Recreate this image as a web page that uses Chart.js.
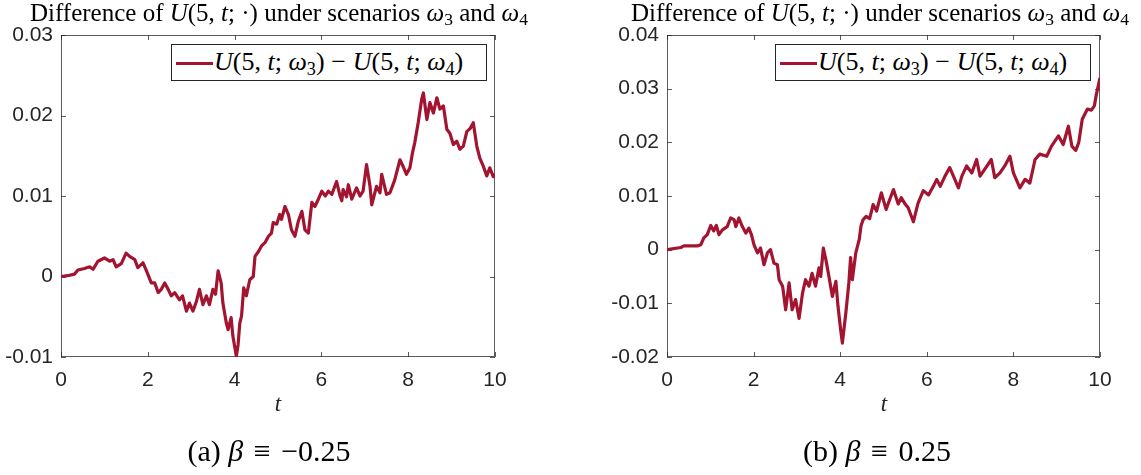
<!DOCTYPE html>
<html>
<head>
<meta charset="utf-8">
<script src="https://cdn.jsdelivr.net/npm/chart.js@4.4.1/dist/chart.umd.min.js"></script>
<style>
  html, body { margin:0; padding:0; background:#fff; }
  #wrap { position:relative; width:1141px; height:475px; overflow:hidden; background:#fff; }
  canvas { position:absolute; top:0; }
  .serif { font-family:"Liberation Serif","DejaVu Serif",serif; color:#000; position:absolute; white-space:nowrap; }
  .title { font-size:25px; line-height:26px; top:0px; transform:translateX(-50%); }
  .cap { font-size:30px; line-height:32px; top:435px; transform:translateX(-50%); }
  .xl { font-size:23px; line-height:26px; top:391px; font-style:italic; transform:translateX(-50%); color:#262626; }
  .legend { position:absolute; background:#fff; border:1px solid #262626; box-sizing:border-box; height:37px; }
  .legend .sw { position:absolute; left:4px; top:17px; width:37px; height:3px; background:#A2142F; }
  .legend .tx { position:absolute; left:42px; top:2px; font-size:26px; line-height:30px; }
  sub { font-size:0.7em; vertical-align:-0.25em; line-height:0; }
  i { font-style:italic; }
  .sp { display:inline-block; width:0.26em; }
  .cs { display:inline-block; width:0.1em; }
</style>
</head>
<body>
<div id="wrap">
  <canvas id="cA" width="570" height="420" style="left:0;width:570px;height:420px"></canvas>
  <canvas id="cB" width="571" height="420" style="left:570px;width:571px;height:420px"></canvas>

  <div class="serif title" style="left:279px">Difference of <i>U</i>(5, <i>t</i>; ·) under scenarios <i>ω</i><sub>3</sub> and <i>ω</i><sub>4</sub></div>
  <div class="serif title" style="left:880px">Difference of <i>U</i>(5, <i>t</i>; ·) under scenarios <i>ω</i><sub>3</sub> and <i>ω</i><sub>4</sub></div>

  <div class="legend" style="left:171px;top:44px;width:316px"><div class="sw"></div><div class="serif tx"><i>U</i>(5, <i>t</i>; <i>ω</i><sub>3</sub>)<span class="sp"></span>−<span class="sp"></span><i>U</i>(5, <i>t</i>; <i>ω</i><sub>4</sub>)</div></div>
  <div class="legend" style="left:775px;top:44px;width:316px"><div class="sw"></div><div class="serif tx"><i>U</i>(5, <i>t</i>; <i>ω</i><sub>3</sub>)<span class="sp"></span>−<span class="sp"></span><i>U</i>(5, <i>t</i>; <i>ω</i><sub>4</sub>)</div></div>

  <div class="serif xl" style="left:278px">t</div>
  <div class="serif xl" style="left:884px">t</div>

  <div class="serif cap" style="left:269px">(a) <i>β</i><span class="cs"></span> ≡ <span class="cs"></span>−0.25</div>
  <div class="serif cap" style="left:877px">(b) <i>β</i><span class="cs"></span> ≡ <span class="cs"></span>0.25</div>
</div>
<script>
// ---- data ----
const tA = [0,0.15,0.31,0.39,0.54,0.66,0.74,0.85,1.0,1.12,1.2,1.27,1.39,1.5,1.58,1.7,1.77,1.89,1.97,2.08,2.16,2.24,2.31,2.39,2.47,2.54,2.62,2.73,2.8,2.89,2.96,3.04,3.12,3.19,3.27,3.35,3.42,3.5,3.56,3.62,3.69,3.73,3.81,3.85,3.92,3.96,4.04,4.08,4.12,4.16,4.21,4.27,4.35,4.43,4.47,4.55,4.62,4.7,4.78,4.85,4.89,4.97,5.04,5.08,5.16,5.24,5.31,5.39,5.47,5.55,5.62,5.7,5.78,5.85,5.93,6.01,6.09,6.16,6.24,6.35,6.43,6.47,6.5,6.58,6.62,6.7,6.81,6.89,6.96,7.04,7.12,7.16,7.27,7.35,7.39,7.5,7.58,7.69,7.81,7.88,7.96,8.04,8.1,8.15,8.23,8.31,8.35,8.43,8.5,8.58,8.66,8.73,8.81,8.89,8.96,9.04,9.12,9.19,9.27,9.35,9.43,9.5,9.58,9.65,9.73,9.81,9.88,9.96,10];
const uA = [0,0.0001,0.0003,0.0008,0.001,0.0012,0.0009,0.0019,0.0023,0.0019,0.0021,0.0012,0.0016,0.0029,0.0025,0.0021,0.0011,0.0017,0.0007,-0.0008,-0.0008,-0.002,-0.0016,-0.0008,-0.0016,-0.0024,-0.002,-0.0029,-0.0024,-0.0043,-0.0033,-0.0043,-0.0031,-0.0016,-0.0035,-0.0024,-0.0035,-0.0016,-0.0022,0.0007,-0.0008,-0.0033,-0.0058,-0.0066,-0.0051,-0.0074,-0.0099,-0.0085,-0.0058,-0.0049,-0.0014,-0.0024,-0.0004,0,0.0025,0.0031,0.0038,0.0042,0.005,0.0054,0.0067,0.0065,0.0077,0.0071,0.0087,0.0077,0.0058,0.005,0.0069,0.0081,0.0058,0.0054,0.0092,0.0087,0.0096,0.0106,0.01,0.0106,0.0102,0.0118,0.01,0.0094,0.0108,0.0099,0.0114,0.0096,0.011,0.01,0.0106,0.0139,0.0112,0.0089,0.0112,0.0104,0.0127,0.0102,0.0104,0.012,0.0145,0.0137,0.0127,0.0135,0.0154,0.0166,0.0191,0.022,0.0228,0.0195,0.0216,0.0203,0.0222,0.0208,0.0212,0.0183,0.0178,0.0164,0.0168,0.0158,0.0162,0.018,0.0184,0.0191,0.0162,0.0147,0.0137,0.0125,0.0135,0.0124,0.0127];

const tB = [0,0.32,0.39,0.7,0.78,0.85,0.93,1.01,1.08,1.14,1.2,1.28,1.39,1.47,1.55,1.59,1.66,1.74,1.82,1.89,1.95,2.01,2.09,2.16,2.24,2.32,2.39,2.47,2.55,2.59,2.67,2.74,2.82,2.89,2.97,3.05,3.13,3.2,3.28,3.35,3.43,3.51,3.55,3.61,3.67,3.74,3.82,3.9,3.95,4.01,4.05,4.13,4.2,4.24,4.28,4.36,4.44,4.48,4.53,4.6,4.68,4.76,4.84,4.95,5.06,5.15,5.23,5.34,5.41,5.5,5.57,5.69,5.8,5.92,6.04,6.15,6.23,6.31,6.42,6.53,6.6,6.73,6.81,6.92,7.04,7.15,7.23,7.34,7.49,7.57,7.69,7.8,7.92,8.0,8.15,8.27,8.38,8.5,8.61,8.77,8.88,9.04,9.15,9.27,9.35,9.44,9.51,9.59,9.71,9.8,9.87,9.91,10];
const uB = [0,0.0004,0.0007,0.0007,0.0009,0.0022,0.0028,0.0045,0.0035,0.0045,0.0028,0.0037,0.0043,0.0059,0.0056,0.0043,0.0059,0.0043,0.0031,0.004,0.0028,0.0009,-0.0006,0.0003,-0.0028,-0.0006,0.0,-0.0025,-0.0028,-0.0056,-0.0068,-0.0112,-0.0062,-0.0112,-0.0093,-0.0128,-0.0081,-0.0056,-0.0068,-0.0044,-0.0068,-0.0034,-0.005,0.0003,-0.0019,-0.005,-0.0087,-0.0059,-0.0106,-0.0149,-0.0174,-0.0118,-0.0062,-0.0015,-0.0056,-0.0006,0.0019,0.0044,0.0056,0.0062,0.0058,0.0084,0.0072,0.0106,0.0075,0.0095,0.0112,0.0085,0.0097,0.0085,0.0078,0.0052,0.0087,0.011,0.0102,0.0118,0.0131,0.0118,0.0137,0.0153,0.014,0.0115,0.0137,0.0156,0.0143,0.0168,0.0137,0.015,0.0168,0.0134,0.0143,0.0156,0.0174,0.0143,0.0115,0.0131,0.0124,0.0168,0.0178,0.0174,0.0193,0.0212,0.0196,0.023,0.0193,0.0185,0.02,0.0243,0.0262,0.026,0.0268,0.0287,0.032];

const xTickVals = [0,2,4,6,8,10];
const xTickLabels = ['0','2','4','6','8','10'];
const yTickValsA = [-0.01,0,0.01,0.02,0.03];
const yTickLabelsA = ['-0.01','0','0.01','0.02','0.03'];
const yTickValsB = [-0.02,-0.01,0,0.01,0.02,0.03,0.04];
const yTickLabelsB = ['-0.02','-0.01','0','0.01','0.02','0.03','0.04'];

const LINE_COLOR = '#A2142F';
const AXIS_COLOR = '#262626';

const boxPlugin = {
  id: 'matlabBox',
  beforeDatasetsDraw(chart) {
    const ctx = chart.ctx, a = chart.chartArea;
    const xs = chart.scales.x, ys = chart.scales.y;
    ctx.save();
    ctx.strokeStyle = 'rgba(38,38,38,0.75)';
    ctx.lineWidth = 1;
    ctx.strokeRect(Math.round(a.left)+0.5, Math.round(a.top)+0.5, Math.round(a.right-a.left)-1, Math.round(a.bottom-a.top)-1);
    const L = 5;
    ctx.beginPath();
    xs.ticks.forEach(t => {
      const p = Math.round(xs.getPixelForValue(t.value)) + 0.5;
      ctx.moveTo(p, a.bottom); ctx.lineTo(p, a.bottom - L);
      ctx.moveTo(p, a.top); ctx.lineTo(p, a.top + L);
    });
    ys.ticks.forEach(t => {
      const p = Math.round(ys.getPixelForValue(t.value)) + 0.5;
      ctx.moveTo(a.left, p); ctx.lineTo(a.left + L, p);
      ctx.moveTo(a.right, p); ctx.lineTo(a.right - L, p);
    });
    ctx.stroke();
    ctx.restore();
  }
};

function labelFrom(vals, labels) {
  return function(value) {
    for (let i = 0; i < vals.length; i++) if (Math.abs(vals[i] - value) < 1e-9) return labels[i];
    return '';
  };
}

function makeChart(id, tArr, uArr, yVals, yLabels, yWidth, padRight) {
  const pts = tArr.map((t, i) => ({x: t, y: uArr[i]}));
  return new Chart(document.getElementById(id), {
    type: 'line',
    data: { datasets: [{ data: pts, borderColor: LINE_COLOR, borderWidth: 3.2, pointRadius: 0, tension: 0, fill: false, borderJoinStyle: 'round' }] },
    options: {
      responsive: false, animation: false, devicePixelRatio: 1,
      layout: { padding: { left: 0, top: 35, right: padRight, bottom: 0 } },
      plugins: { legend: { display: false }, tooltip: { enabled: false }, title: { display: false } },
      scales: {
        x: {
          type: 'linear', min: 0, max: 10,
          afterBuildTicks: s => { s.ticks = xTickVals.map(v => ({value: v})); },
          afterFit: s => { s.height = 63; },
          grid: { display: false, drawTicks: false },
          border: { display: false },
          ticks: { padding: 11, color: AXIS_COLOR, font: { family: 'Liberation Sans', size: 21 }, callback: labelFrom(xTickVals, xTickLabels), maxRotation: 0 }
        },
        y: {
          type: 'linear', min: yVals[0], max: yVals[yVals.length - 1],
          afterBuildTicks: s => { s.ticks = yVals.map(v => ({value: v})); },
          afterFit: s => { s.width = yWidth; },
          grid: { display: false, drawTicks: false },
          border: { display: false },
          ticks: { padding: 8, color: AXIS_COLOR, font: { family: 'Liberation Sans', size: 21 }, callback: labelFrom(yVals, yLabels) }
        }
      }
    },
    plugins: [boxPlugin]
  });
}

makeChart('cA', tA, uA, yTickValsA, yTickLabelsA, 61, 75);
makeChart('cB', tB, uB, yTickValsB, yTickLabelsB, 97, 41);
</script>
</body>
</html>
